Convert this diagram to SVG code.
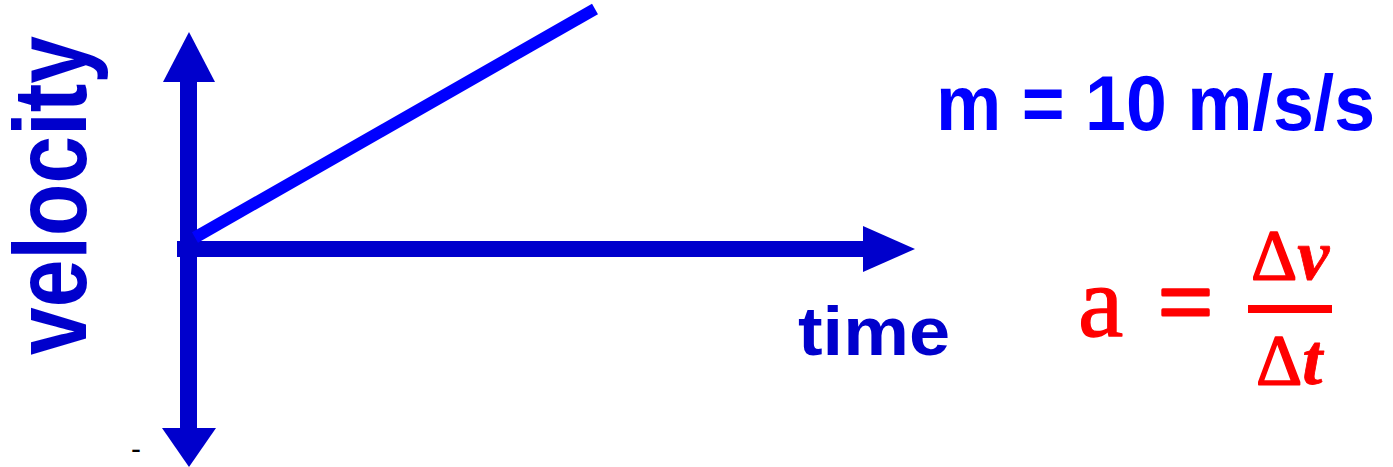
<svg xmlns="http://www.w3.org/2000/svg" width="1393" height="467" viewBox="0 0 1393 467">
<style>
.axis{fill:#0000CC;stroke:none}
.lbl{font-family:"Liberation Sans",Arial,sans-serif;font-weight:bold}
.dark{fill:#0000CC}
.blue{fill:#0000FF}
.math{font-family:"Liberation Serif","Times New Roman",serif;fill:#FF0000;stroke:#FF0000;stroke-linejoin:round}
</style>
<rect width="1393" height="467" fill="#FFFFFF"/>
<g id="connectors">
  <g id="axis-vertical">
    <rect class="axis" x="180" y="80" width="17" height="350"/>
    <polygon class="axis" points="189,32 215,82 163,82"/>
    <polygon class="axis" points="189,467 162,428 216,428"/>
  </g>
  <g id="axis-horizontal">
    <rect class="axis" x="177" y="241" width="690" height="16"/>
    <polygon class="axis" points="915,249 863,226 863,272"/>
  </g>
  <line id="slope-line" x1="195" y1="237.5" x2="595" y2="9" stroke="#0000FF" stroke-width="12" stroke-linecap="butt"/>
</g>
<g id="label-velocity">
  <text class="lbl dark" font-size="104" transform="translate(86,355) rotate(-90)" textLength="319" lengthAdjust="spacingAndGlyphs">velocity</text>
</g>
<g id="label-time">
  <text class="lbl dark" x="798" y="355" font-size="68" textLength="152" lengthAdjust="spacingAndGlyphs">time</text>
</g>
<g id="label-slope">
  <text class="lbl blue" x="936" y="130" font-size="78" textLength="439" lengthAdjust="spacingAndGlyphs">m = 10 m/s/s</text>
</g>
<g id="formula">
  <text class="math" x="1078" y="336" font-size="102" stroke-width="1.3">a</text>
  <text class="math" x="1158" y="336" font-size="102" stroke-width="3.2" textLength="55" lengthAdjust="spacingAndGlyphs">=</text>
  <rect x="1248" y="305" width="84" height="8" fill="#FF0000"/>
  <text class="math" x="1251" y="279" font-size="72" stroke-width="1.5">Δ<tspan font-weight="bold" font-style="italic" stroke-width="0.8">v</tspan></text>
  <text class="math" x="1256" y="384" font-size="72" stroke-width="1.5">Δ<tspan font-weight="bold" font-style="italic" stroke-width="0.8">t</tspan></text>
</g>
<g id="mark">
  <text x="131" y="459" font-size="30" font-family="Liberation Sans,Arial,sans-serif" fill="#000000">-</text>
</g>
</svg>
